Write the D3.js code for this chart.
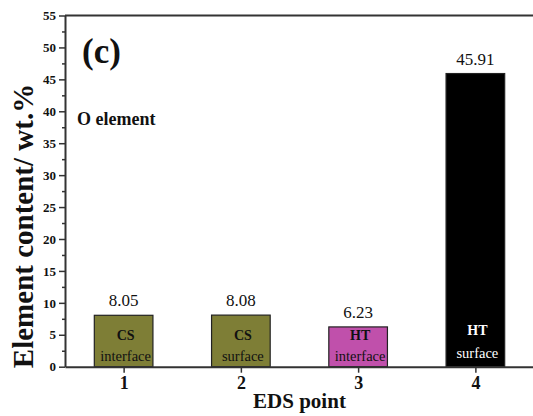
<!DOCTYPE html>
<html>
<head>
<meta charset="utf-8">
<script src="https://cdn.jsdelivr.net/npm/d3@7"></script>
<style>
  body { margin: 0; background: #fff; }
  svg { display: block; }
</style>
</head>
<body>
<script>
// EDS points, O content and the sample labels printed inside the bars
const points = [1, 2, 3, 4];
const values = [8.05, 8.08, 6.23, 45.91];
const groups = ["CS", "CS", "HT", "HT"];
const sites = ["interface", "surface", "interface", "surface"];
const yMajorTicks = [0, 5, 10, 15, 20, 25, 30, 35, 40, 45, 50, 55];
const yMinorTicks = [2.5, 7.5, 12.5, 17.5, 22.5, 27.5, 32.5, 37.5, 42.5, 47.5, 52.5];

const barColors = ["#7e7e36", "#7e7e36", "#c050ab", "#000000"];
const innerText = ["#111", "#111", "#111", "#fff"];

const width = 533;
const height = 416;
const margin = { top: 15.5, right: -1, bottom: 49.3, left: 65 };
const axisColor = "#333";

const svg = d3.select("body")
	.append("svg")
	.attr("width", width)
	.attr("height", height);

const x = d3.scaleLinear()
	.domain([0.5, 4.5])
	.range([margin.left, width - margin.right]);
const y = d3.scaleLinear()
	.domain([0, 55])
	.range([height - margin.bottom, margin.top]);

const barW = x(1.5) - x(1);

// bars
const bars = svg.append("g")
	.selectAll("g")
	.data(points)
	.enter()
	.append("g");

bars.append("rect")
	.attr("x", (d) => x(d) - barW / 2)
	.attr("y", (d, i) => y(values[i]))
	.attr("width", barW)
	.attr("height", (d, i) => y(0) - y(values[i]))
	.attr("fill", (d, i) => barColors[i])
	.attr("stroke", "#222")
	.attr("stroke-width", 1.2);

bars.append("text")
	.attr("x", (d) => x(d))
	.attr("y", (d, i) => y(values[i]) - 9)
	.attr("text-anchor", "middle")
	.attr("font-size", 17)
	.attr("fill", "#111")
	.text((d, i) => values[i].toFixed(2));

bars.append("text")
	.attr("x", (d) => x(d) + 2)
	.attr("y", (d, i) => (i === 3 ? y(0) - 32 : y(0) - 27))
	.attr("text-anchor", "middle")
	.attr("font-size", 14)
	.attr("font-weight", "bold")
	.attr("fill", (d, i) => innerText[i])
	.text((d, i) => groups[i]);

bars.append("text")
	.attr("x", (d) => x(d) + 2)
	.attr("y", (d, i) => (i === 3 ? y(0) - 9 : y(0) - 6))
	.attr("text-anchor", "middle")
	.attr("font-size", 14.5)
	.attr("fill", (d, i) => innerText[i])
	.text((d, i) => sites[i]);

// axes
const yAxis = svg.append("g")
	.attr("transform", `translate(${margin.left},0)`)
	.call(d3.axisLeft(y).tickValues(yMajorTicks).tickSize(6).tickSizeOuter(0).tickPadding(3));
yAxis.selectAll("text")
	.attr("font-size", 13)
	.attr("font-weight", "bold");

const yMinor = svg.append("g")
	.attr("transform", `translate(${margin.left},0)`)
	.call(d3.axisLeft(y).tickValues(yMinorTicks).tickSize(3).tickFormat(""));
yMinor.select(".domain").remove();

const xAxis = svg.append("g")
	.attr("transform", `translate(0,${y(0)})`)
	.call(d3.axisBottom(x).tickValues(points).tickSize(6).tickSizeOuter(0).tickPadding(4).tickFormat(d3.format("d")));
xAxis.selectAll("text")
	.attr("font-size", 18)
	.attr("font-weight", "bold");

svg.selectAll(".domain").attr("stroke", axisColor).attr("stroke-width", 2);
svg.selectAll(".tick line").attr("stroke", axisColor).attr("stroke-width", 1.5);
svg.selectAll(".tick text").attr("fill", "#111");

// top frame line
svg.append("line")
	.attr("x1", margin.left)
	.attr("x2", width)
	.attr("y1", y(55))
	.attr("y2", y(55))
	.attr("stroke", axisColor)
	.attr("stroke-width", 2);

// labels
svg.append("text")
	.attr("transform", "translate(33,226) rotate(-90)")
	.attr("text-anchor", "middle")
	.attr("font-size", 29)
	.attr("font-weight", "bold")
	.attr("fill", "#111")
	.text("Element content/ wt.%");

svg.append("text")
	.attr("x", x(2.5))
	.attr("y", 408)
	.attr("text-anchor", "middle")
	.attr("font-size", 21)
	.attr("font-weight", "bold")
	.attr("fill", "#111")
	.text("EDS point");

svg.append("text")
	.attr("x", 82)
	.attr("y", 63)
	.attr("font-size", 35)
	.attr("font-weight", "bold")
	.attr("fill", "#111")
	.text("(c)");

svg.append("text")
	.attr("x", 77)
	.attr("y", 125)
	.attr("font-size", 18)
	.attr("font-weight", "bold")
	.attr("fill", "#111")
	.text("O element");

// serif everywhere, including the axis tick labels
svg.selectAll("text").attr("font-family", "Liberation Serif");
</script>
</body>
</html>
